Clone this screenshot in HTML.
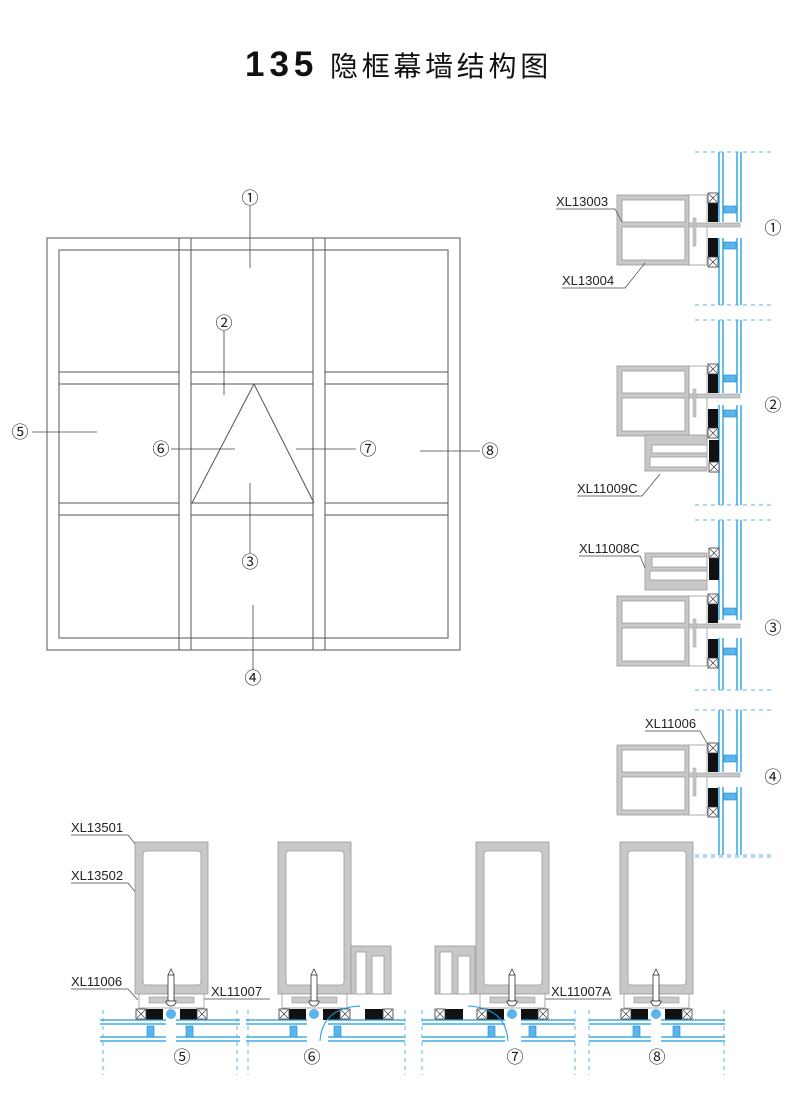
<!DOCTYPE html>
<html><head><meta charset="utf-8"><style>
html,body{margin:0;padding:0;background:#fff;}
svg{display:block;font-family:"Liberation Sans","Noto Sans CJK SC",sans-serif;}
</style></head><body>
<svg width="800" height="1093" viewBox="0 0 800 1093" xmlns="http://www.w3.org/2000/svg">
<defs>
  <g id="xbox"><rect x="0" y="0" width="10" height="10" fill="#fff" stroke="#333" stroke-width="0.8"/><path d="M1 1L9 9M9 1L1 9" stroke="#333" stroke-width="0.7"/></g>
  <g id="tr">
    <rect x="617" y="-29" width="72" height="70" fill="#c8c8c8" stroke="#999" stroke-width="0.8"/>
    <rect x="622" y="-24" width="63" height="22" fill="#fff" stroke="#999" stroke-width="0.8"/>
    <rect x="622" y="3" width="63" height="33" fill="#fff" stroke="#999" stroke-width="0.8"/>
    <rect x="689" y="-29" width="18" height="70" fill="#fff" stroke="#999" stroke-width="0.8"/>
    <rect x="689" y="-1" width="51" height="4" fill="#c8c8c8" stroke="#999" stroke-width="0.6"/>
    <rect x="693" y="-6" width="3" height="28" fill="#c8c8c8" stroke="#999" stroke-width="0.5"/>
    <rect x="708" y="-22" width="10" height="20" fill="#111"/>
    <use href="#xbox" x="708" y="-31"/>
    <rect x="708" y="14" width="10" height="20" fill="#111"/>
    <use href="#xbox" x="708" y="33"/>
  </g>
  <g id="ml">
    <rect x="-36" y="842" width="73" height="152" fill="#c8c8c8" stroke="#999" stroke-width="0.8"/>
    <rect x="-28" y="851" width="58" height="134" rx="3" fill="#fff" stroke="#999" stroke-width="0.8"/>
    <rect x="-32" y="994" width="65" height="14" fill="#fff" stroke="#999" stroke-width="0.8"/>
    <rect x="-22" y="997" width="45" height="6" fill="#c8c8c8" stroke="#999" stroke-width="0.6"/>
    <rect x="-3" y="975" width="6" height="26" fill="#fff" stroke="#333" stroke-width="0.8"/>
    <path d="M-3 975 L0 969 L3 975" fill="none" stroke="#333" stroke-width="0.8"/>
    <path d="M-5 1001 A5 5 0 0 0 5 1001 Z" fill="#fff" stroke="#333" stroke-width="0.8"/>
    <rect x="-25" y="1009" width="17" height="11" fill="#111"/>
    <rect x="9" y="1009" width="17" height="11" fill="#111"/>
    <use href="#xbox" x="-35" y="1009"/>
    <use href="#xbox" x="26" y="1009"/>
    <circle cx="0" cy="1014" r="5" fill="#5bb4ea"/>
  </g>
  <g id="sp"><rect x="0" y="1026" width="7" height="11" fill="#5bb4ea" stroke="#1a8ad4" stroke-width="0.6"/></g>
  <g id="vsp"><rect x="724" y="0" width="12" height="7" fill="#5bb4ea" stroke="#1a8ad4" stroke-width="0.6"/></g>
</defs>

<text x="245" y="76" font-size="28" fill="#111"><tspan font-weight="bold" font-size="35" letter-spacing="5">135</tspan><tspan x="330" letter-spacing="3.7">隐框幕墙结构图</tspan></text>

<g fill="none" stroke="#555" stroke-width="1">
  <rect x="47" y="238" width="413" height="412"/>
  <rect x="59" y="250" width="389" height="388"/>
  <path d="M179 238V650M191 238V650M313 238V650M325 238V650"/>
  <path d="M59 372H179M191 372H313M325 372H448M59 384H179M191 384H313M325 384H448"/>
  <path d="M59 503H179M191 503H313M325 503H448M59 515H179M191 515H313M325 515H448"/>
  <path d="M254 384L192 503M254 384L314 503"/>
</g>
<g stroke="#444" stroke-width="0.8">
  <path d="M250 206V268M224 331V395M250 553V483M253 670V605M32 432H97M171 449H235M296 449H356M420 451H480"/>
</g>
<g font-size="17" fill="#222" text-anchor="middle">
  <text x="250" y="204">①</text><text x="224" y="329">②</text><text x="250" y="568">③</text>
  <text x="253" y="684">④</text><text x="20" y="438">⑤</text><text x="161" y="455">⑥</text>
  <text x="368" y="455">⑦</text><text x="490" y="457">⑧</text>
  <text x="773" y="234">①</text><text x="773" y="411">②</text><text x="773" y="634">③</text><text x="773" y="783">④</text>
  <text x="182" y="1063">⑤</text><text x="312" y="1063">⑥</text><text x="515" y="1063">⑦</text><text x="657" y="1063">⑧</text>
</g>

<g stroke="#1a9ae0" stroke-width="1.3" fill="none">
  <path d="M719 152V222M723 152V222M737 152V222M741 152V222M719 238V305M723 238V305M737 238V305M741 238V305"/>
  <path d="M719 320V393M723 320V393M737 320V393M741 320V393M719 405V505M723 405V505M737 405V505M741 405V505"/>
  <path d="M719 520V620M723 520V620M737 520V620M741 520V620M719 638V690M723 638V690M737 638V690M741 638V690"/>
  <path d="M719 710V772M723 710V772M737 710V772M741 710V772M719 787V855M723 787V855M737 787V855M741 787V855"/>
</g>
<g stroke="#5bb4ea" stroke-width="1" stroke-dasharray="4,4">
  <path d="M695 152H775M695 305H775M695 320H775M695 505H775M695 520H775M695 690H775M695 710H775M695 855H775"/>
</g>
<use href="#vsp" y="206"/><use href="#vsp" y="242"/><use href="#vsp" y="375"/><use href="#vsp" y="410"/>
<use href="#vsp" y="608"/><use href="#vsp" y="648"/><use href="#vsp" y="755"/><use href="#vsp" y="793"/>

<use href="#tr" y="224"/>
<use href="#tr" y="395"/>
<use href="#tr" y="625"/>
<use href="#tr" y="774"/>
<g fill="#c8c8c8" stroke="#999" stroke-width="0.8">
  <rect x="645" y="435" width="62" height="36"/>
  <rect x="652" y="445" width="55" height="8" fill="#fff"/>
  <rect x="650" y="457" width="57" height="10" fill="#fff"/>
  <rect x="645" y="553" width="62" height="37"/>
  <rect x="652" y="557" width="55" height="10" fill="#fff"/>
  <rect x="650" y="571" width="57" height="9" fill="#fff"/>
</g>
<rect x="709" y="440" width="10" height="22" fill="#111"/><use href="#xbox" x="709" y="462"/>
<rect x="709" y="558" width="10" height="22" fill="#111"/><use href="#xbox" x="709" y="548"/>

<g font-size="13" fill="#222">
  <text x="556" y="206">XL13003</text><text x="562" y="285">XL13004</text>
  <text x="577" y="493">XL11009C</text><text x="579" y="553">XL11008C</text>
  <text x="645" y="728">XL11006</text>
  <text x="71" y="832">XL13501</text><text x="71" y="880">XL13502</text>
  <text x="71" y="986">XL11006</text><text x="211" y="996">XL11007</text>
  <text x="551" y="996">XL11007A</text>
</g>
<g stroke="#444" stroke-width="0.7" fill="none">
  <path d="M556 209H615L622 222M562 288H625L645 263M577 496H642L660 474M579 556H640L645 568M645 731H700L708 745"/>
  <path d="M71 835H128L136 845M71 883H128L136 893M71 989H128L138 1000M211 999H270M188 999H211M551 999H612M525 999H551"/>
</g>

<use href="#ml" x="171"/>
<use href="#ml" x="314"/>
<use href="#ml" x="512"/>
<use href="#ml" x="656"/>
<g fill="#c8c8c8" stroke="#999" stroke-width="0.8">
  <rect x="351" y="946" width="40" height="48"/>
  <rect x="356" y="952" width="10" height="42" fill="#fff"/>
  <rect x="372" y="956" width="12" height="38" fill="#fff"/>
  <rect x="435" y="946" width="40" height="48"/>
  <rect x="440" y="952" width="12" height="42" fill="#fff"/>
  <rect x="458" y="956" width="12" height="38" fill="#fff"/>
</g>
<rect x="365" y="1009" width="18" height="11" fill="#111"/><use href="#xbox" x="383" y="1009"/>
<rect x="445" y="1009" width="18" height="11" fill="#111"/><use href="#xbox" x="435" y="1009"/>
<path d="M320 1041 Q322 1008 360 1006" fill="none" stroke="#1a9ae0" stroke-width="1"/>
<path d="M508 1041 Q506 1008 468 1006" fill="none" stroke="#1a9ae0" stroke-width="1"/>

<g stroke="#1a9ae0" stroke-width="1.3" fill="none">
  <path d="M100 1020H166M100 1024H166M100 1037H166M100 1041H166M176 1020H240M176 1024H240M176 1037H240M176 1041H240"/>
  <path d="M246 1020H307M246 1024H307M246 1037H307M246 1041H307M328 1020H405M328 1024H405M328 1037H405M328 1041H405"/>
  <path d="M422 1020H505M422 1024H505M422 1037H505M422 1041H505M521 1020H575M521 1024H575M521 1037H575M521 1041H575"/>
  <path d="M589 1020H651M589 1024H651M589 1037H651M589 1041H651M661 1020H725M661 1024H725M661 1037H725M661 1041H725"/>
</g>
<g stroke="#5bb4ea" stroke-width="1" stroke-dasharray="4,4">
  <path d="M103 1010V1075M237 1010V1075M248 1010V1075M405 1010V1075M422 1010V1075M575 1010V1075M589 1010V1075M724 1010V1075"/>
  <path d="M695 857H775"/>
</g>
<use href="#sp" x="147"/><use href="#sp" x="186"/><use href="#sp" x="290"/><use href="#sp" x="334"/>
<use href="#sp" x="488"/><use href="#sp" x="529"/><use href="#sp" x="633"/><use href="#sp" x="673"/>
</svg>
</body></html>
